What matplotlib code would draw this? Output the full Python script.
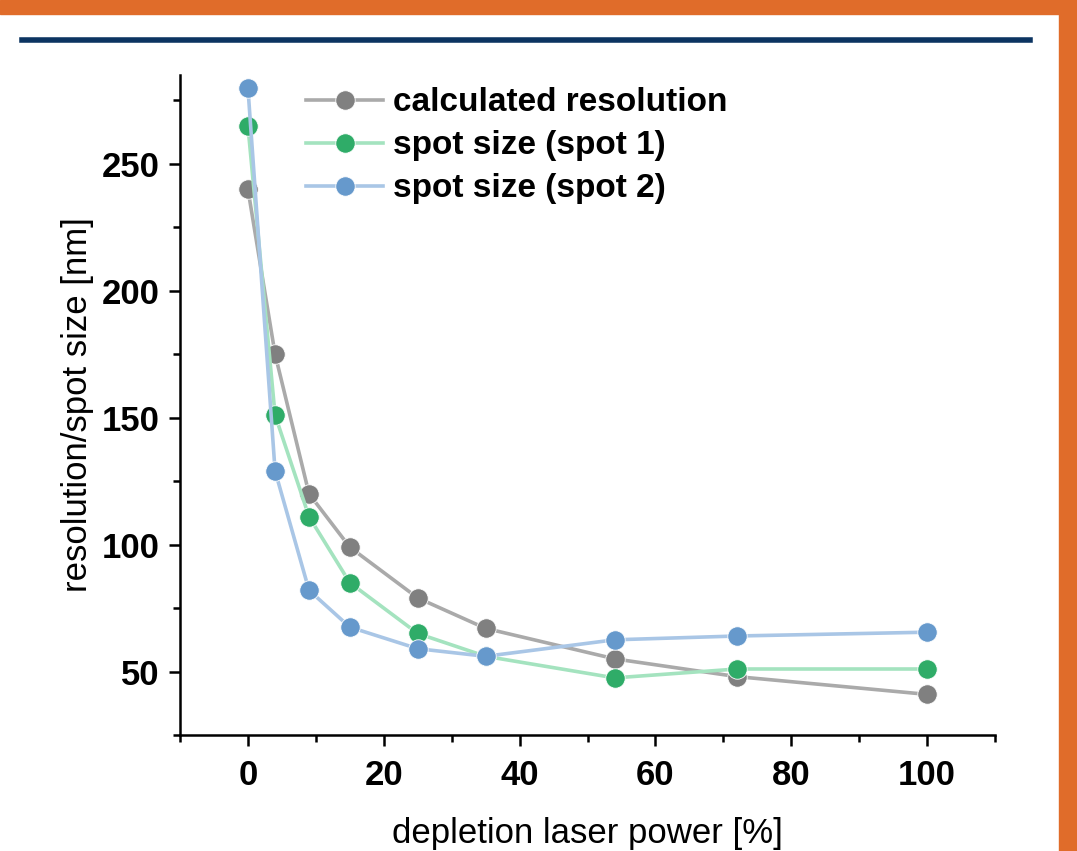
import matplotlib.pyplot as plt
from matplotlib.lines import Line2D
from matplotlib.patches import Rectangle
from matplotlib.ticker import MultipleLocator

# data
power = [0, 4, 9, 15, 25, 35, 54, 72, 100]
calc_res = [240, 175, 120, 99, 79, 67, 55, 48, 41]
spot1 = [265, 151, 111, 85, 65, 56, 47.5, 51, 51]
spot2 = [280, 129, 82, 67.5, 59, 56, 62.5, 64, 65.5]
labels = ['calculated resolution', 'spot size (spot 1)', 'spot size (spot 2)']

plt.rcParams['font.family'] = ['Liberation Sans', 'DejaVu Sans']

fig = plt.figure(figsize=(10.77, 8.51), dpi=100)

# page decorations: orange frame and dark blue rule
fig.patches.append(Rectangle((0, 1 - 14 / 851), 1, 14 / 851, transform=fig.transFigure,
                             color='#e06c2a', zorder=0))
fig.patches.append(Rectangle((1 - 18 / 1077, 0), 18 / 1077, 1, transform=fig.transFigure,
                             color='#e06c2a', zorder=0))
fig.add_artist(Line2D([22 / 1077, 1030 / 1077], [1 - 40 / 851, 1 - 40 / 851],
                      transform=fig.transFigure, color='#0c3461', lw=4))

ax = fig.add_axes([180 / 1077, 116 / 851, 815 / 1077, 660 / 851])

styles = [('#aaaaaa', '#808080'), ('#a4e3bf', '#2fac68'), ('#a9c6e6', '#6699cc')]
for ys, lab, (lc, mc) in zip([calc_res, spot1, spot2], labels, styles):
    ax.plot(power, ys, '-o', color=lc, lw=2.6, markersize=14,
            markerfacecolor=mc, markeredgecolor='white', markeredgewidth=0.6, label=lab)

ax.set_xlim(-10, 110)
ax.set_ylim(25, 285)
ax.xaxis.set_major_locator(MultipleLocator(20))
ax.xaxis.set_minor_locator(MultipleLocator(10))
ax.yaxis.set_major_locator(MultipleLocator(50))
ax.yaxis.set_minor_locator(MultipleLocator(25))
ax.set_yticks([50, 100, 150, 200, 250])

for s in ['top', 'right']:
    ax.spines[s].set_visible(False)
for s in ['left', 'bottom']:
    ax.spines[s].set_linewidth(1.8)
ax.tick_params(which='major', length=8, width=1.8, labelsize=25, pad=7)
ax.tick_params(axis='x', which='major', pad=9)
ax.tick_params(which='minor', length=5, width=1.8)
for t in ax.get_xticklabels() + ax.get_yticklabels():
    t.set_fontweight('bold')

ax.set_xlabel('depletion laser power [%]', fontsize=25, labelpad=18)
ax.set_ylabel('resolution/spot size [nm]', fontsize=25, labelpad=5)

ax.legend(loc='upper left', bbox_to_anchor=(0.118, 1.027), frameon=False,
          prop={'size': 24, 'weight': 'bold'}, handlelength=2.3, handletextpad=0.3,
          labelspacing=0.36)

fig.savefig('out.png', dpi=100)
